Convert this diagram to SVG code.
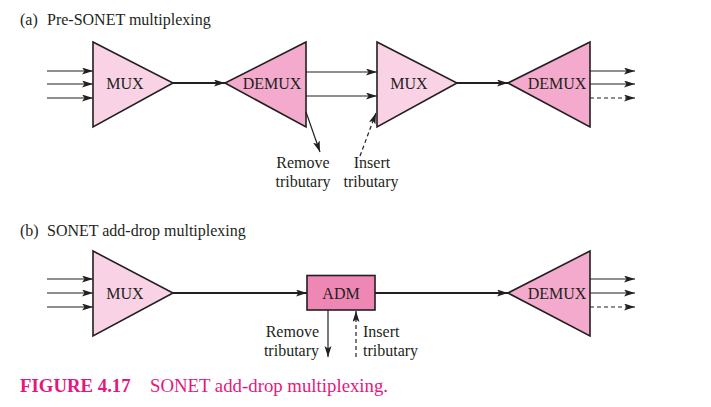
<svg xmlns="http://www.w3.org/2000/svg" width="711" height="407" viewBox="0 0 711 407">
<style>
text{font-family:"Liberation Serif","Times New Roman",serif;fill:#231F20;font-size:16px}
.mux{fill:#F9D3E5;stroke:#231F20;stroke-width:1.6}
.demux{fill:#F3AACD;stroke:#231F20;stroke-width:1.6}
.adm{fill:#EF87B5;stroke:#231F20;stroke-width:1.6}
.ln{stroke:#231F20;stroke-width:1.2;fill:none}
.thick{stroke:#231F20;stroke-width:2;fill:none}
.dash{stroke-dasharray:4,3}
.cap{fill:#E5177B;font-size:18.8px}
.mid{text-anchor:middle}
</style>
<defs>
<marker id="ah" markerUnits="userSpaceOnUse" markerWidth="12" markerHeight="8" refX="11" refY="3.5" orient="auto">
<path d="M0,0 L11,3.5 L0,7 L2.5,3.5 z" fill="#231F20"/>
</marker>
</defs>
<rect width="711" height="407" fill="#fff"/>
<text x="20" y="25">(a)</text><text x="47" y="25">Pre-SONET multiplexing</text>
<text x="20" y="236">(b)</text><text x="47" y="236">SONET add-drop multiplexing</text>

<g id="a-mux1"><polygon class="mux" points="93,42 173,83 93,127"/><text class="mid" x="125" y="88.5">MUX</text></g>
<g id="a-demux1"><polygon class="demux" points="306,42 225,83 306,127"/><text class="mid" x="272" y="88.5">DEMUX</text></g>
<g id="a-mux2"><polygon class="mux" points="377,42 457,83 377,127"/><text class="mid" x="409" y="88.5">MUX</text></g>
<g id="a-demux2"><polygon class="demux" points="590,42 508,83 590,127"/><text class="mid" x="557" y="88.5">DEMUX</text></g>

<g id="b-mux"><polygon class="mux" points="93,251 173,293 93,336"/><text class="mid" x="125" y="298.5">MUX</text></g>
<g id="b-adm"><rect class="adm" x="307" y="275.5" width="68" height="34.5"/><text class="mid" x="341" y="298.5">ADM</text></g>
<g id="b-demux"><polygon class="demux" points="590,251 508,293 590,336"/><text class="mid" x="557" y="298.5">DEMUX</text></g>

<g id="labels">
<text class="mid" x="303" y="168">Remove</text><text class="mid" x="303" y="187">tributary</text>
<text class="mid" x="372" y="168">Insert</text><text class="mid" x="371" y="187">tributary</text>
<text x="319" y="337" text-anchor="end">Remove</text><text x="319" y="355.5" text-anchor="end">tributary</text>
<text x="363" y="337">Insert</text><text x="363" y="355.5">tributary</text>
</g>

<g id="connectors">
<line class="ln" x1="47" y1="71" x2="93" y2="71" marker-end="url(#ah)"/>
<line class="ln" x1="47" y1="84" x2="93" y2="84" marker-end="url(#ah)"/>
<line class="ln" x1="47" y1="98" x2="93" y2="98" marker-end="url(#ah)"/>
<line class="thick" x1="173" y1="83" x2="225" y2="83" marker-end="url(#ah)"/>
<line class="ln" x1="306" y1="72" x2="377" y2="72" marker-end="url(#ah)"/>
<line class="ln" x1="306" y1="96" x2="377" y2="96" marker-end="url(#ah)"/>
<line class="ln" x1="306" y1="112" x2="320" y2="152" marker-end="url(#ah)"/>
<line class="ln dash" x1="360" y1="156" x2="376" y2="113" marker-end="url(#ah)"/>
<line class="thick" x1="457" y1="83" x2="508" y2="83" marker-end="url(#ah)"/>
<line class="ln" x1="590" y1="71" x2="635" y2="71" marker-end="url(#ah)"/>
<line class="ln" x1="590" y1="84" x2="635" y2="84" marker-end="url(#ah)"/>
<line class="ln dash" x1="590" y1="98" x2="635" y2="98" marker-end="url(#ah)"/>

<line class="ln" x1="47" y1="279" x2="93" y2="279" marker-end="url(#ah)"/>
<line class="ln" x1="47" y1="293" x2="93" y2="293" marker-end="url(#ah)"/>
<line class="ln" x1="47" y1="307" x2="93" y2="307" marker-end="url(#ah)"/>
<line class="thick" x1="173" y1="293" x2="307" y2="293" marker-end="url(#ah)"/>
<line class="ln" x1="328" y1="310" x2="328" y2="357" marker-end="url(#ah)"/>
<line class="ln dash" x1="356" y1="357" x2="356" y2="311" marker-end="url(#ah)"/>
<line class="thick" x1="375" y1="293" x2="508" y2="293" marker-end="url(#ah)"/>
<line class="ln" x1="590" y1="279" x2="635" y2="279" marker-end="url(#ah)"/>
<line class="ln" x1="590" y1="293" x2="635" y2="293" marker-end="url(#ah)"/>
<line class="ln dash" x1="590" y1="307" x2="635" y2="307" marker-end="url(#ah)"/>
</g>

<text class="cap" x="20" y="392" font-weight="bold">FIGURE 4.17</text>
<text class="cap" x="150" y="392">SONET add-drop multiplexing.</text>
</svg>
